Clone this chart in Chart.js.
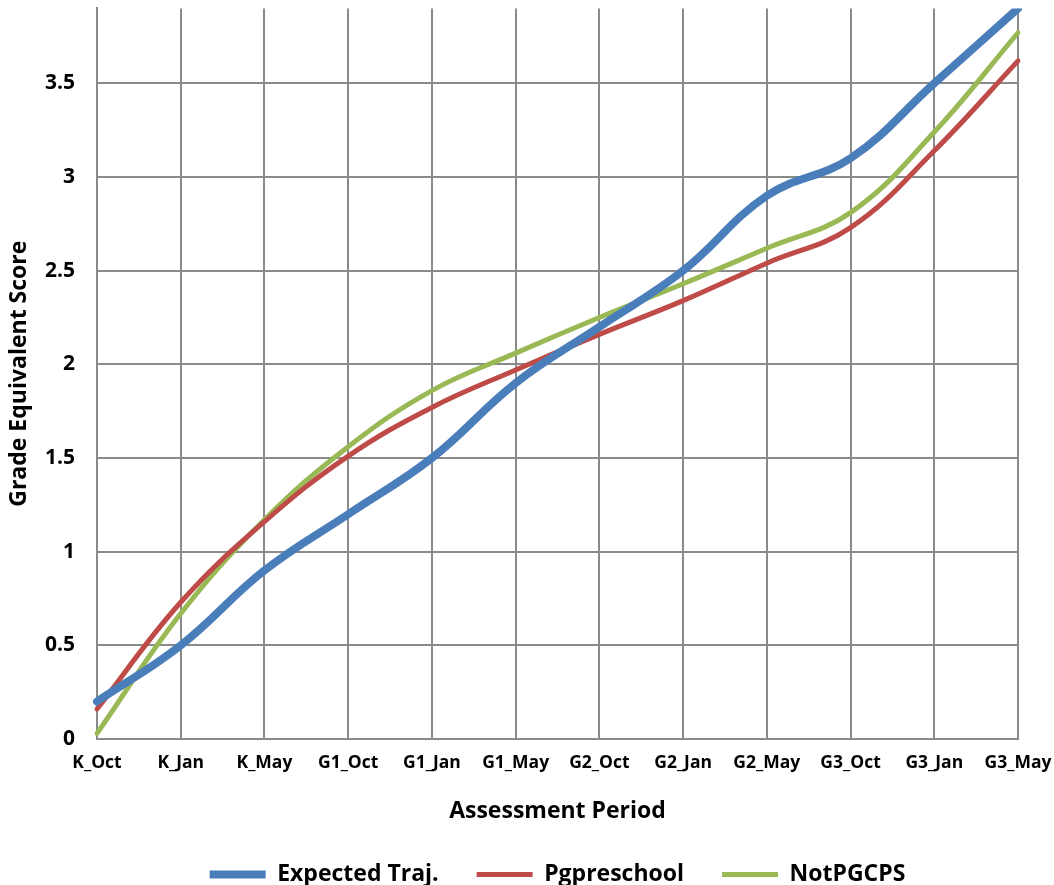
<!DOCTYPE html>
<html>
<head>
<meta charset="utf-8">
<script src="https://cdn.jsdelivr.net/npm/chart.js@4"></script>
<style>
  html, body { margin: 0; padding: 0; background: #fff; }
  #wrap { width: 1054px; height: 885px; position: relative; }
</style>
</head>
<body>
<div id="wrap"><canvas id="c"></canvas></div>
<script>
const categories = ['K_Oct','K_Jan','K_May','G1_Oct','G1_Jan','G1_May','G2_Oct','G2_Jan','G2_May','G3_Oct','G3_Jan','G3_May'];
const expectedTraj = [0.2, 0.5, 0.9, 1.2, 1.5, 1.9, 2.2, 2.5, 2.9, 3.1, 3.5, 3.9];
const pgpreschool  = [0.16, 0.73, 1.16, 1.51, 1.77, 1.97, 2.16, 2.34, 2.54, 2.73, 3.14, 3.62];
const notPGCPS     = [0.03, 0.67, 1.17, 1.56, 1.86, 2.06, 2.25, 2.43, 2.62, 2.81, 3.24, 3.77];
const yTicks = [0, 0.5, 1, 1.5, 2, 2.5, 3, 3.5];

const FONT = "'Open Sans', sans-serif";
const gridColor = '#8a8a8a';
const clear = 'rgba(0,0,0,0)';

new Chart(document.getElementById('c'), {
  type: 'line',
  data: {
    labels: categories,
    datasets: [
      { label: 'Expected Traj.', data: expectedTraj, borderColor: '#4A7EBB', backgroundColor: '#4A7EBB', borderWidth: 8, pointRadius: 0, tension: 0.4, borderCapStyle: 'round' },
      { label: 'Pgpreschool', data: pgpreschool, borderColor: '#BE4B48', backgroundColor: '#BE4B48', borderWidth: 5, pointRadius: 0, tension: 0.4, borderCapStyle: 'round' },
      { label: 'NotPGCPS', data: notPGCPS, borderColor: '#98B954', backgroundColor: '#98B954', borderWidth: 5, pointRadius: 0, tension: 0.4, borderCapStyle: 'round' }
    ]
  },
  options: {
    responsive: true,
    maintainAspectRatio: false,
    animation: false,
    layout: { padding: { left: 6, right: 36, top: 0, bottom: -11 } },
    plugins: {
      legend: {
        position: 'bottom',
        fullSize: false,
        labels: {
          font: { family: FONT, size: 23, weight: 'bold' },
          color: '#000',
          usePointStyle: true,
          pointStyle: 'line',
          pointStyleWidth: 56,
          boxHeight: 23,
          padding: 38
        }
      },
      tooltip: { enabled: false }
    },
    scales: {
      x: {
        offset: false,
        grid: { color: gridColor, lineWidth: 2, drawTicks: true, tickLength: 14, tickColor: clear },
        border: { color: gridColor, width: 2 },
        ticks: { font: { family: FONT, size: 17.5, weight: 'bold' }, color: '#000', maxRotation: 0, padding: 0 },
        title: { display: true, text: 'Assessment Period', font: { family: FONT, size: 23, weight: 'bold' }, color: '#000', padding: { top: 0, bottom: 0 } },
        afterFit: (s) => { s.height = 86; }
      },
      y: {
        min: 0,
        max: 3.9,
        afterBuildTicks: (axis) => { axis.ticks = yTicks.map(v => ({ value: v })); },
        grid: { color: gridColor, lineWidth: 2, drawTicks: true, tickLength: 22, tickColor: clear },
        border: { color: gridColor, width: 2 },
        ticks: { font: { family: FONT, size: 21, weight: 'bold', lineHeight: 0.8 }, color: '#000', padding: 0, callback: (v) => String(v) },
        title: { display: true, text: 'Grade Equivalent Score', font: { family: FONT, size: 23, weight: 'bold' }, color: '#000', padding: { top: 0, bottom: 0 } },
        afterFit: (s) => { s.width = 91; }
      }
    }
  }
});
</script>
</body>
</html>
